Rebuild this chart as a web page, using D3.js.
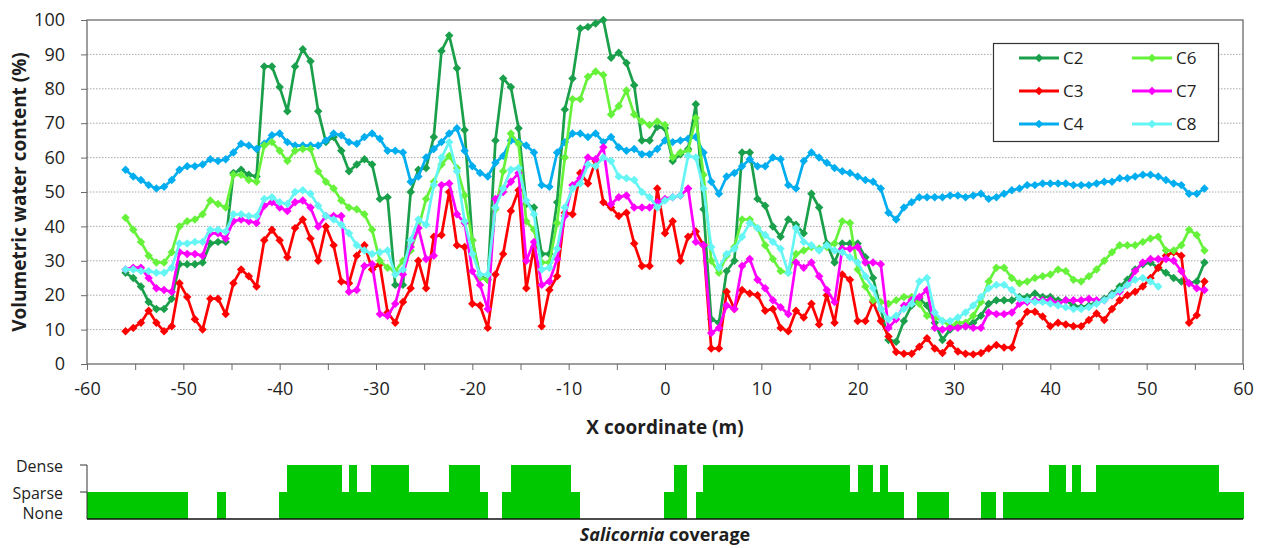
<!DOCTYPE html>
<html>
<head>
<meta charset="utf-8">
<script src="https://cdnjs.cloudflare.com/ajax/libs/d3/7.8.5/d3.min.js"></script>
<style>
    body { margin: 0; background: #fff; }
    text { font-family: "Open Sans", sans-serif; fill: #1e1e1e; }
</style>
</head>
<body>
<svg id="chart"></svg>
<script>
// x coordinate of each reading (m)
var xCoords = [
    -56, -55.2, -54.4, -53.6, -52.8, -52, -51.2, -50.4, -49.6, -48.8,
    -48, -47.2, -46.4, -45.6, -44.8, -44, -43.2, -42.4, -41.6, -40.8,
    -40, -39.2, -38.4, -37.6, -36.8, -36, -35.2, -34.4, -33.6, -32.8,
    -32, -31.2, -30.4, -29.6, -28.8, -28, -27.2, -26.4, -25.6, -24.8,
    -24, -23.2, -22.4, -21.6, -20.8, -20, -19.2, -18.4, -17.6, -16.8,
    -16, -15.2, -14.4, -13.6, -12.8, -12, -11.2, -10.4, -9.6, -8.8,
    -8, -7.2, -6.4, -5.6, -4.8, -4, -3.2, -2.4, -1.6, -0.8,
    0, 0.8, 1.6, 2.4, 3.2, 4, 4.8, 5.6, 6.4, 7.2,
    8, 8.8, 9.6, 10.4, 11.2, 12, 12.8, 13.6, 14.4, 15.2,
    16, 16.8, 17.6, 18.4, 19.2, 20, 20.8, 21.6, 22.4, 23.2,
    24, 24.8, 25.6, 26.4, 27.2, 28, 28.8, 29.6, 30.4, 31.2,
    32, 32.8, 33.6, 34.4, 35.2, 36, 36.8, 37.6, 38.4, 39.2,
    40, 40.8, 41.6, 42.4, 43.2, 44, 44.8, 45.6, 46.4, 47.2,
    48, 48.8, 49.6, 50.4, 51.2, 52, 52.8, 53.6, 54.4, 55.2,
    56
];

var c2 = [
    26.5, 25, 22.5, 18, 16, 16, 19, 29, 29, 29,
    29.5, 35, 35.5, 35.5, 55.5, 56.5, 55, 54.5, 86.5, 86.5,
    80.5, 73.5, 86.5, 91.5, 88, 73.5, 64.5, 66, 62, 56,
    58, 59.5, 58, 48, 48.5, 23, 23, 50, 56.5, 57,
    66, 91, 95.5, 86, 68, 36, 25.5, 24.5, 65, 83,
    80.5, 68.5, 46.5, 45.5, 32, 32, 47, 74, 83, 97.5,
    98, 99, 100, 89, 90.5, 87.5, 81, 65, 65, 69,
    68.5, 59, 61, 62.5, 75.5, 45, 13, 12, 27, 30,
    61.5, 61.5, 48, 46, 40, 37, 42, 40.5, 38, 49.5,
    45.5, 35, 29.5, 35, 35, 35, 31, 25, 16, 7,
    6.5, 12.5, 17, 19, 17, 12, 7, 10, 11, 11,
    12, 14, 17.5, 18.5, 18.5, 18.5, 19.5, 19.5, 20.5, 19.5,
    19.5, 18.5, 18.5, 17, 16.5, 17, 18, 19, 20.5, 22.5,
    24.5, 27.5, 29, 29.5, 28, 26.5, 25, 24, 23.5, 24,
    29.5
];

var c3 = [
    9.5, 10.5, 12, 15.5, 12, 9.5, 11, 23.5, 19.5, 13,
    10, 19, 19, 14.5, 23.5, 27.5, 25.5, 22.5, 36, 39,
    36, 31, 39.5, 42, 36.5, 30, 40, 34.5, 24, 23.5,
    31.5, 34.5, 27.5, 29, 15, 12, 18, 22, 30, 22,
    37, 37.5, 50, 34.5, 34, 17.5, 17, 10.5, 26, 32,
    44.5, 50.5, 22, 34, 11, 21.5, 25.5, 44, 43.5, 55.5,
    52.5, 59, 47, 45.5, 43, 44, 35, 28.5, 28.5, 51,
    38, 41.5, 30, 37, 38.5, 34.5, 4.5, 4.5, 21, 16,
    21.5, 20.5, 20, 15.5, 16, 10.5, 9.5, 15.5, 13.5, 17.5,
    11.5, 20, 12, 26, 24.5, 12.5, 12.5, 18, 12.5, 8,
    3.5, 3, 3, 5, 7.5, 4.5, 3.2, 6, 3.6, 3,
    2.8, 3.2, 4.5, 5.5, 4.8, 4.8, 11.8, 15.2, 15.2, 13.8,
    11, 12, 11.5, 11, 11, 12.8, 14.7, 12.8, 16, 18.5,
    20, 21, 22.5, 25, 28, 31.5, 32.5, 31.5, 12, 14.2,
    24
];

var c4 = [
    56.5, 54.5, 53.5, 52, 51, 51.5, 53.5, 56.5, 57.5, 57.5,
    58, 59.5, 59, 59.5, 61.5, 64, 63.5, 62.5, 64, 66.5,
    67, 64.5, 63.5, 63.5, 63.5, 63.5, 65, 67, 66.5, 64.5,
    64, 66, 67, 65.5, 62, 62, 61.5, 53, 54.5, 60,
    62.5, 64.5, 67, 68.5, 62, 57.5, 55.5, 54.5, 58.5, 60.5,
    65, 64.5, 63.5, 61.5, 52, 51.5, 61.5, 64.5, 67, 67,
    66, 67, 64.5, 66, 63, 62, 62.5, 61, 61, 62.5,
    65, 64.5, 65, 65.5, 66, 61.5, 53, 49.5, 54.5, 55.5,
    57.5, 59.5, 57.5, 57.5, 60, 59.5, 52, 51, 59, 61.5,
    60, 58.5, 57, 56, 55.5, 54.5, 53.5, 53, 51, 44,
    42, 45.5, 47, 48.5, 48.5, 48.5, 48.5, 49, 49, 48.5,
    49, 49.5, 48, 48.5, 49.5, 50.5, 51, 52, 52, 52.5,
    52.5, 52.5, 52.5, 52, 52, 52, 52.5, 53, 53, 54,
    54, 54.5, 55, 55, 54.5, 53.5, 52.5, 52, 49.5, 49.5,
    51
];

var c6 = [
    42.5, 39, 35.5, 31.5, 29.5, 29.5, 32.5, 40, 41.5, 42,
    43.5, 47.5, 46.5, 45.5, 55, 55, 53.5, 53, 63.5, 64.5,
    62, 59, 62, 62.5, 62.5, 56, 53, 51, 47.5, 45.5,
    45, 43.5, 39, 30, 28, 27, 30, 33, 39.5, 48,
    53, 58, 60.5, 57, 49, 36, 25, 24.5, 45, 56,
    67, 64, 41.5, 39, 29.5, 29.5, 41, 60, 77, 77,
    83.5, 85, 84, 72.5, 75, 79.5, 72.5, 70.5, 69.5, 70.5,
    69.5, 60, 61.5, 62, 71.5, 55, 30, 26.5, 31.5, 34,
    42, 42, 39.5, 34.5, 30.5, 27, 26.5, 32, 33, 34,
    33.5, 34, 35, 41.5, 41, 27.5, 22.5, 18.5, 18, 17.5,
    18.5, 19.5, 19.5, 17.5, 14, 13.5, 12.5, 11, 12, 12,
    14, 18, 24, 28, 28, 25, 23.5, 24, 25, 25.5,
    26, 27.5, 27, 24.5, 24, 25.5, 27.5, 30, 32.5, 34.5,
    34.5, 34.5, 35.5, 36.5, 37, 33, 33, 34.5, 39, 37.5,
    33
];

var c7 = [
    27.5, 28, 28, 25, 22, 21.5, 21, 32.5, 32, 32,
    31.5, 38, 38, 36.5, 41.5, 42, 41.5, 41, 46, 47,
    45.5, 44.5, 47, 47.5, 45.5, 40, 43, 43, 43, 21,
    21.5, 28.5, 29, 14.5, 14, 17.5, 26, 34, 39.5, 30.5,
    31.5, 52, 52.5, 43.5, 41, 27, 23, 16, 48, 50,
    53, 55.5, 30, 35.5, 23, 24, 30.5, 43, 52, 54,
    60, 59.5, 63, 46.5, 48.5, 49, 45.5, 45.5, 45.5, 47,
    48, 48.5, 49, 51, 35.5, 34.5, 9, 10.5, 17, 16,
    28.5, 30.5, 24.5, 22, 18.5, 16.5, 14.5, 29.5, 28, 29.5,
    25.5, 21.5, 18, 33.5, 33.5, 34, 29.5, 29.5, 29, 10.5,
    13, 17, 18.5, 19.5, 21.5, 10.5, 10, 10.5, 10.5, 11,
    10.5, 10.5, 15, 14.5, 14.5, 15, 17.5, 18, 18.5, 18.5,
    18.5, 17.5, 18.5, 18.5, 18.5, 19, 18.5, 18.5, 20, 21,
    23, 27, 29.5, 30.5, 30.5, 30.5, 30, 27, 23.5, 22,
    21.5
];

// C8 stops after x = 51.2
var c8 = [
    27.5, 27.5, 27, 27, 26.5, 26.5, 28, 35, 35, 35.5,
    35.5, 39, 39, 38.5, 43.5, 43.5, 43, 43, 48, 48.5,
    47, 46.5, 50, 50.5, 49.5, 46, 43, 42, 40.5, 38,
    34.5, 33, 32, 32.5, 33, 26, 27.5, 36, 42, 40.5,
    52, 60, 64.5, 56, 41.5, 32, 26, 26, 45.5, 51,
    56.5, 57, 47.5, 43.5, 27.5, 28, 33.5, 45.5, 51, 52.5,
    58, 57.5, 60, 59, 54.5, 54, 53.5, 50, 48.5, 45.5,
    47.5, 48.5, 49, 60.5, 60, 51, 34, 28, 32, 33.5,
    37, 41, 39.5, 37.5, 35.5, 33.5, 26.5, 39.5, 35.5, 34.5,
    33, 34.5, 33, 32.5, 31, 29.5, 25.5, 22, 16, 13,
    14, 16, 17.5, 24, 25, 15, 12.5, 12.5, 13.5, 15,
    17, 19.5, 22, 23, 23, 21.5, 19, 18.5, 18, 18,
    17.5, 17, 16.5, 16, 16, 16.5, 17.5, 18.5, 20, 21.5,
    23, 24.5, 25, 24, 22.5, null, null, null, null, null,
    null
];

var seriesNames = ["C2", "C3", "C4", "C6", "C7", "C8"];
var seriesValues = [c2, c3, c4, c6, c7, c8];
var seriesColors = ["#1a9f4b", "#ff0000", "#00aeef", "#66f23a", "#ff00ff", "#66f5f5"];

var yTicks = [0, 10, 20, 30, 40, 50, 60, 70, 80, 90, 100];
var xTicks = [-60, -55, -50, -45, -40, -35, -30, -25, -20, -15, -10, -5, 0, 5, 10, 15, 20, 25, 30, 35, 40, 45, 50, 55, 60];

// Salicornia coverage: 0 = None, 1 = Sparse, 2 = Dense
var coverStart = [-60, -46.5, -40.1, -39.2, -33.6, -32.8, -32, -30.5, -26.6, -22.4, -19.3, -16.9, -16, -9.8,
    -0.1, 0.9, 3.2, 3.9, 19.1, 20, 21.5, 22.3, 23.1, 26.2, 32.8, 35.1, 39.9, 41.6, 42.3, 43.1, 44.7, 57.4];
var coverEnd = [-49.6, -45.6, -39.2, -33.6, -32.8, -32, -30.5, -26.6, -22.4, -19.3, -18.4, -16, -9.8, -8.9,
    0.9, 2.2, 3.9, 19.1, 20, 21.5, 22.3, 23.1, 24.7, 29.4, 34.3, 39.9, 41.6, 42.3, 43.1, 44.7, 57.4, 60];
var coverLevel = [1, 1, 1, 2, 1, 2, 1, 2, 1, 2, 1, 1, 2, 1,
    1, 2, 1, 2, 1, 2, 1, 2, 1, 1, 1, 1, 2, 1, 2, 1, 2, 1];
var coverLabels = ["None", "Sparse", "Dense"];

var width = 1266;
var height = 548;
var plot = { left: 87, right: 1243, top: 20, bottom: 364 };

var svg = d3.select("#chart")
    .attr("width", width)
    .attr("height", height);

var xScale = d3.scaleLinear().domain([-60, 60]).range([plot.left, plot.right]);
var yScale = d3.scaleLinear().domain([0, 100]).range([plot.bottom, plot.top]);

// Grid lines
svg.append("g")
    .selectAll("line")
    .data(yTicks.slice(1, -1))
    .enter().append("line")
    .attr("x1", plot.left)
    .attr("x2", plot.right)
    .attr("y1", function (d) { return yScale(d); })
    .attr("y2", function (d) { return yScale(d); })
    .attr("stroke", "#a8a8a8")
    .attr("stroke-width", 1)
    .attr("stroke-dasharray", "1.5,1.5");

// Frame
svg.append("rect")
    .attr("x", plot.left)
    .attr("y", plot.top)
    .attr("width", plot.right - plot.left)
    .attr("height", plot.bottom - plot.top)
    .attr("fill", "none")
    .attr("stroke", "#6b6b6b")
    .attr("stroke-width", 1.3);

// Y Axis
var yAxis = svg.append("g")
    .attr("transform", "translate(" + plot.left + ",0)")
    .call(d3.axisLeft(yScale).tickValues(yTicks).tickSize(6).tickSizeOuter(0).tickPadding(16));
yAxis.select(".domain").remove();
yAxis.selectAll("line").attr("stroke", "#6b6b6b");
yAxis.selectAll("text").style("font-size", "18px").style("font-family", "'Open Sans', sans-serif");

// X Axis
var xAxis = svg.append("g")
    .attr("transform", "translate(0," + plot.bottom + ")")
    .call(d3.axisBottom(xScale).tickValues(xTicks).tickSize(6).tickSizeOuter(0).tickPadding(12)
        .tickFormat(function (d) { return d % 10 === 0 ? String(d) : ""; }));
xAxis.select(".domain").remove();
xAxis.selectAll("line").attr("stroke", "#6b6b6b");
xAxis.selectAll("text").style("font-size", "18px").style("font-family", "'Open Sans', sans-serif");

// Axis titles
svg.append("text")
    .attr("transform", "translate(19," + ((plot.top + plot.bottom) / 2) + ") rotate(-90)")
    .attr("text-anchor", "middle")
    .attr("dy", "0.35em")
    .style("font-size", "19px")
    .style("font-weight", "bold")
    .text("Volumetric water content (%)");

svg.append("text")
    .attr("x", (plot.left + plot.right) / 2)
    .attr("y", 427)
    .attr("text-anchor", "middle")
    .attr("dy", "0.35em")
    .style("font-size", "19px")
    .style("font-weight", "bold")
    .text("X coordinate (m)");

// Lines and markers
var line = d3.line()
    .defined(function (d) { return d.v !== null; })
    .x(function (d) { return xScale(d.x); })
    .y(function (d) { return yScale(d.v); });

var diamond = d3.symbol().type(d3.symbolSquare).size(36);

seriesNames.forEach(function (name, k) {
    var pts = xCoords.map(function (x, i) { return { x: x, v: seriesValues[k][i] }; });
    var g = svg.append("g").attr("class", "series-" + name);
    g.append("path")
        .datum(pts)
        .attr("d", line)
        .attr("fill", "none")
        .attr("stroke", seriesColors[k])
        .attr("stroke-width", 2.7)
        .attr("stroke-linejoin", "round");
    g.selectAll("path.mark")
        .data(pts.filter(function (d) { return d.v !== null; }))
        .enter().append("path")
        .attr("class", "mark")
        .attr("d", diamond)
        .attr("transform", function (d) {
            return "translate(" + xScale(d.x) + "," + yScale(d.v) + ") rotate(45)";
        })
        .attr("fill", seriesColors[k]);
});

// Legend
var legend = svg.append("g");
legend.append("rect")
    .attr("x", 993.5)
    .attr("y", 43.5)
    .attr("width", 225)
    .attr("height", 98)
    .attr("fill", "#fff")
    .attr("stroke", "#333")
    .attr("stroke-width", 1.2);

seriesNames.forEach(function (name, k) {
    var col = Math.floor(k / 3);
    var row = k % 3;
    var lx = 1019 + col * 113;
    var ly = 58 + row * 33;
    legend.append("line")
        .attr("x1", lx).attr("x2", lx + 40)
        .attr("y1", ly).attr("y2", ly)
        .attr("stroke", seriesColors[k])
        .attr("stroke-width", 3);
    legend.append("path")
        .attr("d", diamond)
        .attr("transform", "translate(" + (lx + 20) + "," + ly + ") rotate(45)")
        .attr("fill", seriesColors[k]);
    legend.append("text")
        .attr("x", lx + 44)
        .attr("y", ly)
        .attr("dy", "0.35em")
        .style("font-size", "17px")
        .text(name);
});

// Coverage strip
var covScale = d3.scaleLinear().domain([0, 2]).range([519, 465]);

svg.append("g")
    .attr("shape-rendering", "crispEdges")
    .selectAll("rect")
    .data(coverLevel)
    .enter().append("rect")
    .attr("x", function (d, i) { return xScale(coverStart[i]); })
    .attr("y", function (d) { return covScale(d); })
    .attr("width", function (d, i) { return xScale(coverEnd[i]) - xScale(coverStart[i]) + 0.6; })
    .attr("height", function (d) { return covScale(0) - covScale(d); })
    .attr("fill", "#00c800");

svg.append("line")
    .attr("x1", plot.left).attr("x2", plot.right)
    .attr("y1", covScale(0)).attr("y2", covScale(0))
    .attr("stroke", "#111")
    .attr("stroke-width", 1.5);

svg.append("line")
    .attr("x1", plot.left).attr("x2", plot.left)
    .attr("y1", covScale(2)).attr("y2", covScale(0))
    .attr("stroke", "#333")
    .attr("stroke-width", 1);

svg.append("g")
    .selectAll("line")
    .data([1, 2])
    .enter().append("line")
    .attr("x1", plot.left - 7).attr("x2", plot.left)
    .attr("y1", function (d) { return covScale(d); })
    .attr("y2", function (d) { return covScale(d); })
    .attr("stroke", "#333")
    .attr("stroke-width", 1);

svg.append("g")
    .selectAll("text")
    .data(coverLabels)
    .enter().append("text")
    .attr("x", 63)
    .attr("y", function (d, i) { return i === 0 ? covScale(0) - 6 : covScale(i) + 1; })
    .attr("dy", "0.35em")
    .attr("text-anchor", "end")
    .style("font-size", "16px")
    .text(function (d) { return d; });

var covTitle = svg.append("text")
    .attr("x", (plot.left + plot.right) / 2)
    .attr("y", 535)
    .attr("dy", "0.35em")
    .attr("text-anchor", "middle")
    .style("font-size", "18px")
    .style("font-weight", "bold");
covTitle.append("tspan").style("font-style", "italic").text("Salicornia");
covTitle.append("tspan").text(" coverage");
</script>
</body>
</html>
